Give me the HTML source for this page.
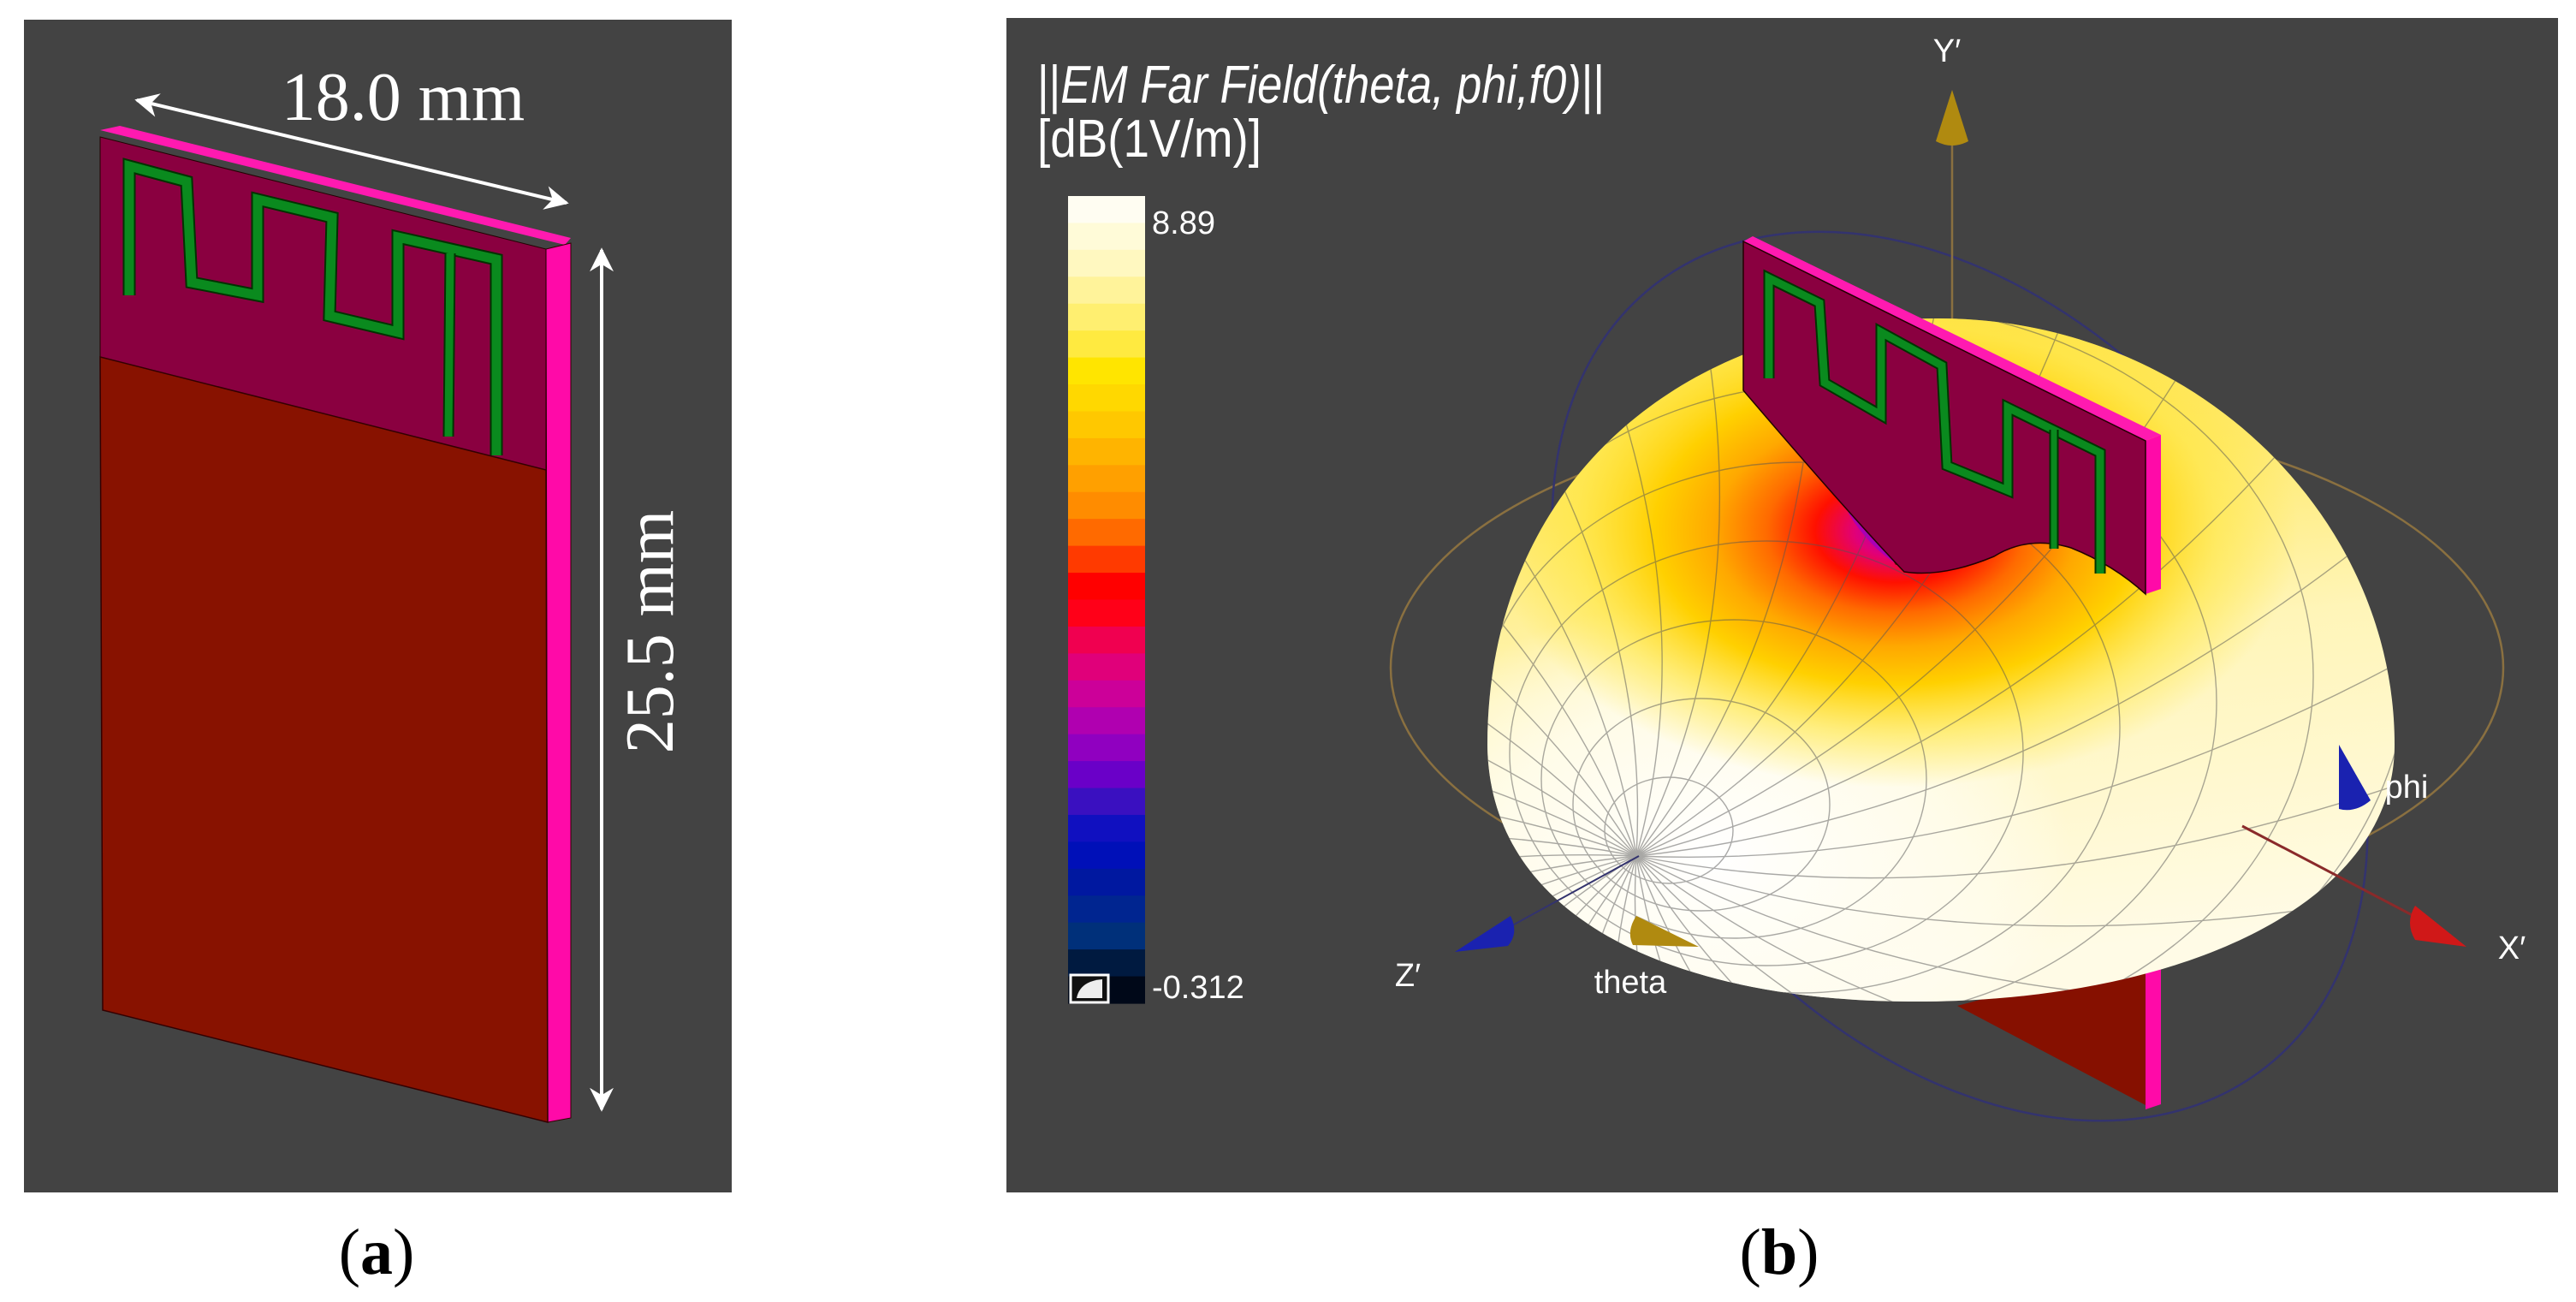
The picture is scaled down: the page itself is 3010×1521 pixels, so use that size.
<!DOCTYPE html>
<html><head><meta charset="utf-8"><style>
html,body{margin:0;padding:0;background:#fff;width:3010px;height:1521px;overflow:hidden}
svg{display:block}
text{font-family:"Liberation Sans",sans-serif}
</style></head><body>
<svg id="fig" width="3010" height="1521" viewBox="0 0 3010 1521" xmlns="http://www.w3.org/2000/svg">
<defs>
  <linearGradient id="torusFill" x1="0" y1="0" x2="0.15" y2="1">
    <stop offset="0" stop-color="#ffe040"/>
    <stop offset="0.3" stop-color="#ffea70"/>
    <stop offset="0.55" stop-color="#fff5b8"/>
    <stop offset="1" stop-color="#fffbe6"/>
  </linearGradient>
  <radialGradient id="holeGrad" cx="0.5" cy="0.5" r="0.5">
    <stop offset="0" stop-color="#a000c0"/>
    <stop offset="0.1" stop-color="#e0007a"/>
    <stop offset="0.2" stop-color="#ff1000"/>
    <stop offset="0.32" stop-color="#ff6a00"/>
    <stop offset="0.45" stop-color="#ffa800"/>
    <stop offset="0.6" stop-color="#ffd000"/>
    <stop offset="0.8" stop-color="#ffe640" stop-opacity="0.6"/>
    <stop offset="1" stop-color="#ffe640" stop-opacity="0"/>
  </radialGradient>
  <radialGradient id="whiteGlow" cx="0.5" cy="0.5" r="0.5">
    <stop offset="0" stop-color="#ffffff"/>
    <stop offset="0.6" stop-color="#fffdf2" stop-opacity="0.8"/>
    <stop offset="1" stop-color="#ffffff" stop-opacity="0"/>
  </radialGradient>
  <clipPath id="torusClip"><path d="M2266,372 C2560,372 2798,600 2798,870 C2798,1060 2540,1172 2230,1170 C1950,1168 1740,1070 1738,870 C1738,570 1960,372 2266,372 Z"/></clipPath>
  <marker id="ah" viewBox="0 0 10 10" refX="9" refY="5" markerWidth="7" markerHeight="7" orient="auto-start-reverse"><path d="M0,0 L10,5 L0,10 L3,5 z" fill="#fff"/></marker>
</defs>

<g>
  <rect x="28" y="23" width="827" height="1370" fill="#434343"/>
  <g>
    <polygon points="117,152 140,147 667,278 660,286" fill="#ff1ab0"/>
    <polygon points="638,291 667,284 667,1306 640,1311" fill="#ff0aa8" stroke="#300" stroke-width="1"/>
    <polygon points="117,160 638,291 638,549 117,417" fill="#8a0040" stroke="#200" stroke-width="1"/>
    <polygon points="117,417 638,549 640,1311 120,1180" fill="#881200" stroke="#300" stroke-width="1.5"/>
    <polyline points="151,345 151,194 218,212 224,330 301,345 301,233 388,254 385,369 465,388 465,277 580,303 580,532" fill="none" stroke="#003300" stroke-width="15"/>
    <polyline points="151,345 151,194 218,212 224,330 301,345 301,233 388,254 385,369 465,388 465,277 580,303 580,532" fill="none" stroke="#0a8a1e" stroke-width="11"/>
    <line x1="526" y1="296" x2="524" y2="510" stroke="#003300" stroke-width="13"/>
    <line x1="526" y1="296" x2="524" y2="510" stroke="#0a8a1e" stroke-width="9"/>
  </g>
  <line x1="160" y1="117" x2="662" y2="237" stroke="#fff" stroke-width="4" marker-start="url(#ah)" marker-end="url(#ah)"/>
  <text x="471" y="140" font-size="80" fill="#fff" text-anchor="middle" style="font-family:'Liberation Serif',serif">18.0 mm</text>
  <line x1="703" y1="292" x2="703" y2="1296" stroke="#fff" stroke-width="4" marker-start="url(#ah)" marker-end="url(#ah)"/>
  <text transform="translate(786,738) rotate(-90)" font-size="80" fill="#fff" text-anchor="middle" style="font-family:'Liberation Serif',serif">25.5 mm</text>
</g>
<text x="440" y="1488" font-size="76" fill="#000" text-anchor="middle" style="font-family:'Liberation Serif',serif">(<tspan font-weight="bold">a</tspan>)</text>

<g>
  <rect x="1176" y="21" width="1813" height="1372" fill="#434343"/>
  <text x="1212" y="120" font-size="62" fill="#fff" textLength="663" lengthAdjust="spacingAndGlyphs">||<tspan font-style="italic">EM Far Field(theta, phi,f0)</tspan>||</text>
  <text x="1212" y="183" font-size="62" fill="#fff" textLength="262" lengthAdjust="spacingAndGlyphs">[dB(1V/m)]</text>
  <g id="colorbar"></g>
  <rect x="1251" y="1139" width="44" height="32" fill="#111" stroke="#fff" stroke-width="3"/>
  <path d="M1258,1166 Q1262,1146 1288,1144 L1288,1166 Z" fill="#eee"/>
  <g id="cbLabels"></g>

  <ellipse cx="2275" cy="780" rx="650" ry="300" fill="none" stroke="#8a7040" stroke-width="2.5"/>
  <ellipse cx="2290" cy="790" rx="580" ry="400" transform="rotate(52 2290 790)" fill="none" stroke="#33336e" stroke-width="2.5"/>
  <line x1="2281" y1="160" x2="2281" y2="600" stroke="#8a7040" stroke-width="2.5"/>
  <path d="M2281,105 L2300,165 Q2281,175 2262,165 Z" fill="#b08a10"/>
  <text x="2275" y="72" font-size="38" fill="#fff" text-anchor="middle">Y′</text>

  <polygon points="2287,1175 2507,1117 2507,1291" fill="#861000"/>
  <polygon points="2507,1117 2525,1110 2525,1290 2507,1296" fill="#ff0aa8"/>

  <g>
    <path d="M2266,372 C2560,372 2798,600 2798,870 C2798,1060 2540,1172 2230,1170 C1950,1168 1740,1070 1738,870 C1738,570 1960,372 2266,372 Z" fill="url(#torusFill)"/>
    <g clip-path="url(#torusClip)">
      <ellipse cx="2000" cy="1000" rx="420" ry="300" fill="url(#whiteGlow)"/>
      <ellipse cx="2215" cy="620" rx="470" ry="300" fill="url(#holeGrad)"/>
      <g id="grid" stroke="#555" stroke-width="1.4" fill="none" opacity="0.5"></g>
    </g>
    <polygon points="2140,540 2215,660 2330,650 2300,570" fill="#7a0e00"/>
    <path d="M2150,545 L2218,660 Q2185,640 2160,600 Z" fill="#a000c0" opacity="0.8"/>
  </g>

  <g>
    <polygon points="2037,282 2048,276 2525,508 2507,515" fill="#ff1ab0"/>
    <polygon points="2507,515 2525,508 2525,688 2507,694" fill="#ff0aa8"/>
    <path d="M2037,282 L2507,515 L2507,694 Q2470,660 2420,640 Q2370,625 2330,650 Q2270,675 2225,668 Q2160,600 2037,456 Z" fill="#8a0040" stroke="#200" stroke-width="1.5"/>
    <polyline points="2067,442 2067,325 2126,354 2132,447 2198,485 2198,388 2269,427 2275,544 2346,573 2346,476 2454,529 2454,670" fill="none" stroke="#003300" stroke-width="13"/>
    <polyline points="2067,442 2067,325 2126,354 2132,447 2198,485 2198,388 2269,427 2275,544 2346,573 2346,476 2454,529 2454,670" fill="none" stroke="#0a8a1e" stroke-width="9"/>
    <line x1="2400" y1="502" x2="2400" y2="641" stroke="#003300" stroke-width="11"/>
    <line x1="2400" y1="502" x2="2400" y2="641" stroke="#0a8a1e" stroke-width="7"/>
  </g>

  <line x1="1760" y1="1085" x2="1915" y2="1000" stroke="#33336e" stroke-width="2"/>
  <path d="M1700,1112 L1765,1070 Q1775,1090 1762,1105 Z" fill="#1a22b0"/>
  <text x="1645" y="1152" font-size="38" fill="#fff" text-anchor="middle">Z′</text>
  <path d="M1985,1106 L1912,1070 Q1900,1088 1908,1104 Z" fill="#b08a10"/>
  <text x="1905" y="1160" font-size="38" fill="#fff" text-anchor="middle">theta</text>
  <line x1="2620" y1="965" x2="2830" y2="1075" stroke="#8a2a2a" stroke-width="3"/>
  <path d="M2882,1106 L2822,1058 Q2810,1078 2822,1098 Z" fill="#d01818"/>
  <text x="2935" y="1120" font-size="38" fill="#fff" text-anchor="middle">X′</text>
  <path d="M2733,870 L2770,935 Q2752,950 2733,945 Z" fill="#1a22b0"/>
  <text x="2812" y="932" font-size="38" fill="#fff" text-anchor="middle">phi</text>
</g>
<text x="2079" y="1488" font-size="76" fill="#000" text-anchor="middle" style="font-family:'Liberation Serif',serif">(<tspan font-weight="bold">b</tspan>)</text>
</svg>
<script>
const cbColors = ["#fffdf2","#fffbd8","#fff8c0","#fff39a","#ffef70","#ffea40","#ffe500","#ffd800","#ffc800","#ffb400","#ffa000","#ff8c00","#ff6a00","#ff3a00","#ff0000","#ff0018","#f00050","#e0007a","#cc0099","#b000b0","#9000c0","#6a00c8","#3a10c0","#1010c0","#0010b8","#0018a0","#002590","#00307a","#001a40","#000818"];
const cbTickValues = [8.89, -0.312];
const cbTickLabels = ["8.89", "-0.312"];
const NS = "http://www.w3.org/2000/svg";
const cbTop = 229, cbBottom = 1172, cbX = 1248, cbW = 90;
const vMax = 8.89, vMin = -0.312;
function cbY(v){ return cbTop + (vMax - v) / (vMax - vMin) * (cbBottom - cbTop); }
const cb = document.getElementById("colorbar");
const bandH = (cbBottom - cbTop) / cbColors.length;
cbColors.forEach((c, i) => {
  const r = document.createElementNS(NS, "rect");
  r.setAttribute("x", cbX); r.setAttribute("y", cbTop + i * bandH);
  r.setAttribute("width", cbW); r.setAttribute("height", bandH + 0.6);
  r.setAttribute("fill", c);
  
  
  cb.appendChild(r);
});
const lab = document.getElementById("cbLabels");
cbTickValues.forEach((v, i) => {
  const t = document.createElementNS(NS, "text");
  const y = cbY(v);
  t.setAttribute("x", 1346);
  t.setAttribute("y", i === 0 ? y + 44 : y - 6);
  t.setAttribute("font-size", "38");
  t.setAttribute("fill", "#fff");
  t.textContent = cbTickLabels[i];
  
  
  lab.appendChild(t);
});
const grid = document.getElementById("grid");
const px = 1912, py = 1000;
for (let k = 1; k <= 9; k++) {
  const e = document.createElementNS(NS, "ellipse");
  e.setAttribute("cx", px + k * 38); e.setAttribute("cy", py - k * 30);
  e.setAttribute("rx", k * 75); e.setAttribute("ry", k * 62);
  
  
  grid.appendChild(e);
}
for (let a = 0; a < 36; a++) {
  const ang = a * Math.PI / 18;
  const p = document.createElementNS(NS, "path");
  const ex = px + Math.cos(ang) * 1100, ey = py + Math.sin(ang) * 900;
  const cx = px + Math.cos(ang + 0.4) * 500, cy = py + Math.sin(ang + 0.4) * 420;
  p.setAttribute("d", `M${px},${py} Q${cx},${cy} ${ex},${ey}`);
  
  
  grid.appendChild(p);
}
</script>
</body></html>
